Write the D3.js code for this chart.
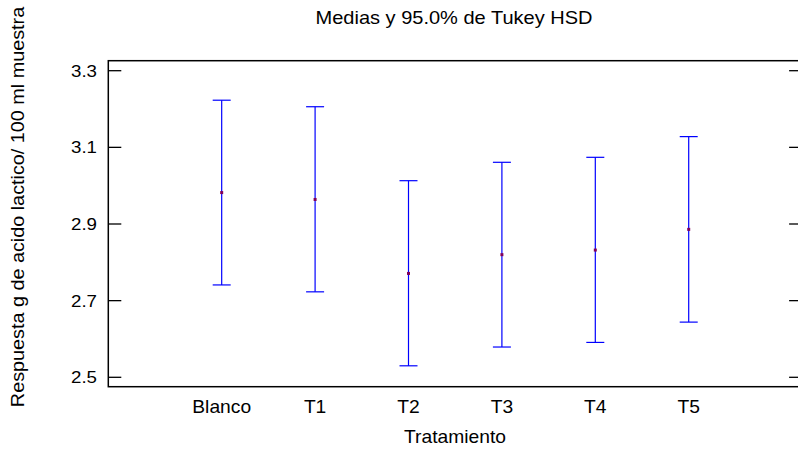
<!DOCTYPE html>
<html><head><meta charset="utf-8">
<script src="https://cdn.jsdelivr.net/npm/d3@7/dist/d3.min.js"></script>
<style>body{margin:0;background:#fff}svg{display:block}text{font-family:"Liberation Sans",Arial,sans-serif;fill:#000}</style>
</head><body><svg id="c" width="798" height="451"></svg>
<script>
const categories = ["Blanco","T1","T2","T3","T4","T5"];
const means = [2.982, 2.964, 2.771, 2.820, 2.832, 2.886];
const lower = [2.741, 2.723, 2.530, 2.579, 2.591, 2.644];
const upper = [3.223, 3.206, 3.013, 3.061, 3.074, 3.128];
const yTicks = [2.5, 2.7, 2.9, 3.1, 3.3];
const title = "Medias y 95.0% de Tukey HSD";
const xTitle = "Tratamiento";
const yTitle = "Respuesta g de acido lactico/ 100 ml muestra";

const svg = d3.select("#c");
const L = 108.3, R = 802.1, T = 60.7, B = 386.7;
const x = d3.scaleLinear().domain([-1.214, categories.length - 1 + 1.214]).range([L, R]);
const y = d3.scaleLinear().domain([2.5, 3.3]).range([377.3, 70.7]);

const sx = 1.1;
function txt(g, xx, yy, s, size, anchor, rot) {
  return g.append("text")
    .attr("transform", `translate(${xx},${yy})` + (rot ? ` rotate(${rot})` : "") + ` scale(${sx},1)`)
    .attr("text-anchor", anchor).style("font-size", size + "px").text(s);
}

// frame
svg.append("rect").attr("x", L).attr("y", T).attr("width", R - L).attr("height", B - T)
  .attr("fill", "none").attr("stroke", "#000").attr("stroke-width", 1.5);

// y ticks (left and right, inward)
yTicks.forEach(v => {
  svg.append("line").attr("x1", L).attr("x2", L + 13).attr("y1", y(v)).attr("y2", y(v)).attr("stroke", "#000").attr("stroke-width", 1.3);
  svg.append("line").attr("x1", R - 13).attr("x2", R).attr("y1", y(v)).attr("y2", y(v)).attr("stroke", "#000").attr("stroke-width", 1.3);
  txt(svg, 97, y(v) + 6, d3.format(".1f")(v), 17, "end");
});

// x labels
categories.forEach((c, i) => txt(svg, x(i), 413, c, 17.5, "middle"));

// error bars
const g = svg.append("g");
categories.forEach((c, i) => {
  const xi = x(i);
  g.append("line").attr("x1", xi).attr("x2", xi).attr("y1", y(upper[i])).attr("y2", y(lower[i])).attr("stroke", "#0000ff").attr("stroke-width", 1.2);
  g.append("line").attr("x1", xi - 9).attr("x2", xi + 9).attr("y1", y(upper[i])).attr("y2", y(upper[i])).attr("stroke", "#0000ff").attr("stroke-width", 1.2);
  g.append("line").attr("x1", xi - 9).attr("x2", xi + 9).attr("y1", y(lower[i])).attr("y2", y(lower[i])).attr("stroke", "#0000ff").attr("stroke-width", 1.2);
  g.append("rect").attr("x", xi - 1.5).attr("y", y(means[i]) - 1.5).attr("width", 3).attr("height", 3).attr("fill", "#80005a");
});

txt(svg, 454, 24, title, 18.2, "middle");
txt(svg, 455, 443, xTitle, 17.5, "middle");
txt(svg, 24, 207, yTitle, 18, "middle", -90);
</script></body></html>
